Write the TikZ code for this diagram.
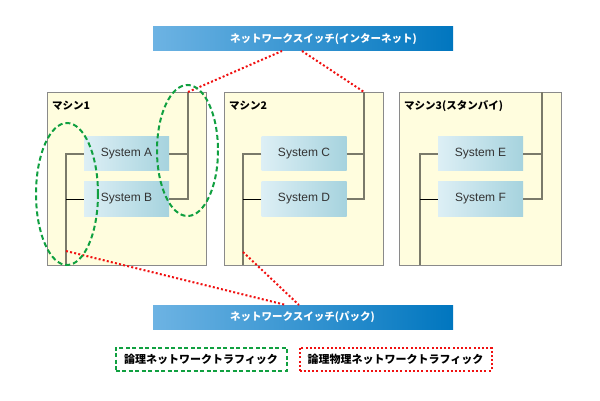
\documentclass[tikz,border=0pt]{standalone}
\usepackage{fontspec}
\setmainfont{Noto Sans CJK JP}
\newfontfamily\latinsans{Liberation Sans}
\usetikzlibrary{calc}
\definecolor{machfill}{HTML}{FFFDDE}
\definecolor{machdraw}{HTML}{8A8A8A}
\definecolor{wirecol}{HTML}{7A7A6A}
\definecolor{sysleft}{HTML}{DDEFF5}
\definecolor{sysright}{HTML}{A6D3DE}
\definecolor{swleft}{HTML}{6DB3E3}
\definecolor{swright}{HTML}{0076BF}
\definecolor{dotred}{HTML}{F01010}
\definecolor{dashgreen}{HTML}{10A040}
\definecolor{systext}{HTML}{333333}
\tikzset{
  machine/.style={draw=machdraw, line width=1pt, fill=machfill, anchor=north west, inner sep=0pt},
  sysbox/.style={left color=sysleft, right color=sysright, draw=none, minimum width=85pt, minimum height=34pt, inner sep=0pt, font=\latinsans\fontsize{12}{14}\selectfont, text=systext},
  switchbox/.style={left color=swleft, right color=swright, draw=none, minimum width=300pt, minimum height=24pt, inner sep=0pt},
  switchtext/.style={anchor=west, inner sep=0pt, text=white, font=\fontsize{10.5}{12}\selectfont\bfseries},
  wire/.style={draw=wirecol, line width=2pt},
  thinwire/.style={draw=black, line width=0.8pt},
  reddot/.style={draw=dotred, line width=2pt, dash pattern=on 2pt off 2.2pt},
  greendash/.style={draw=dashgreen, line width=2pt, dash pattern=on 5pt off 3pt},
  mlabel/.style={anchor=west, font=\fontsize{10.5}{12}\selectfont\bfseries, inner sep=0pt},
  legendtext/.style={font=\fontsize{11}{13}\selectfont\bfseries, inner sep=0pt},
}
\begin{document}
\begin{tikzpicture}[x=1pt,y=-1pt]
\useasboundingbox (0,0) rectangle (600,401);
% switches
\node[switchbox] (netsw) at (303,39) {};
\node[switchtext] (netswt) at (230,39) {ネットワークスイッチ(インターネット)};
\node[switchbox] (backsw) at (303,317) {};
\node[switchtext] (backswt) at (230,317) {ネットワークスイッチ(パック)};
% machines
\node[machine, minimum width=159pt, minimum height=173pt] (m1) at (47,92) {};
\node[machine, minimum width=159pt, minimum height=173pt] (m2) at (224,92) {};
\node[machine, minimum width=162pt, minimum height=173pt] (m3) at (399,92) {};
\node[mlabel] (m1l) at (52,106) {マシン1};
\node[mlabel] (m2l) at (229,106) {マシン2};
\node[mlabel] (m3l) at (404,106) {マシン3(スタンバイ)};
% systems
\node[sysbox] (A) at (126.5,154) {System A};
\node[sysbox] (B) at (126.5,199) {System B};
\node[sysbox] (C) at (304,154) {System C};
\node[sysbox] (D) at (304,199) {System D};
\node[sysbox] (E) at (480.5,154) {System E};
\node[sysbox] (F) at (480.5,199) {System F};
% wire end points
\coordinate (m1L) at (66,265);
\coordinate (m1R) at (188,92);
\coordinate (m2L) at (243,265);
\coordinate (m2R) at (364,92);
\coordinate (m3L) at (420,265);
\coordinate (m3R) at (542,92);
% machine 1 wiring
\draw[wire] (A.west) -| (m1L);
\draw[thinwire] (B.west) -- (B.west -| m1L);
\draw[wire] (B.east) -| (m1R);
\draw[wire] (A.east) -- (A.east -| m1R);
% machine 2 wiring
\draw[wire] (C.west) -| (m2L);
\draw[thinwire] (D.west) -- (D.west -| m2L);
\draw[wire] (D.east) -| (m2R);
\draw[wire] (C.east) -- (C.east -| m2R);
% machine 3 wiring
\draw[wire] (E.west) -| (m3L);
\draw[thinwire] (F.west) -- (F.west -| m3L);
\draw[wire] (F.east) -| (m3R);
\draw[wire] (E.east) -- (E.east -| m3R);
% red dotted traffic
\coordinate (t1) at (282,51);
\coordinate (t2) at (302,51);
\coordinate (b1) at (286,305);
\coordinate (b2) at (299,305);
\coordinate (m1Ld) at (66,251);
\coordinate (m2Ld) at (243,252);
\draw[reddot] (m1R) -- (t1);
\draw[reddot] (t2) -- (m2R);
\draw[reddot] (m1Ld) -- (b1);
\draw[reddot] (m2Ld) -- (b2);
% green ellipses
\draw[greendash] (67,194) ellipse [x radius=31, y radius=71];
\draw[greendash] (187.5,150.5) ellipse [x radius=30.5, y radius=65.5];
% legend
\node[legendtext, draw=dashgreen, line width=2pt, dash pattern=on 4pt off 2.5pt, minimum width=171pt, minimum height=23pt] (lg) at (201,359) {論理ネットワークトラフィック};
\node[legendtext, draw=dotred, line width=2pt, dash pattern=on 2pt off 2.2pt, minimum width=192pt, minimum height=23pt] (lr) at (395.5,359) {論理物理ネットワークトラフィック};
\end{tikzpicture}
\end{document}
